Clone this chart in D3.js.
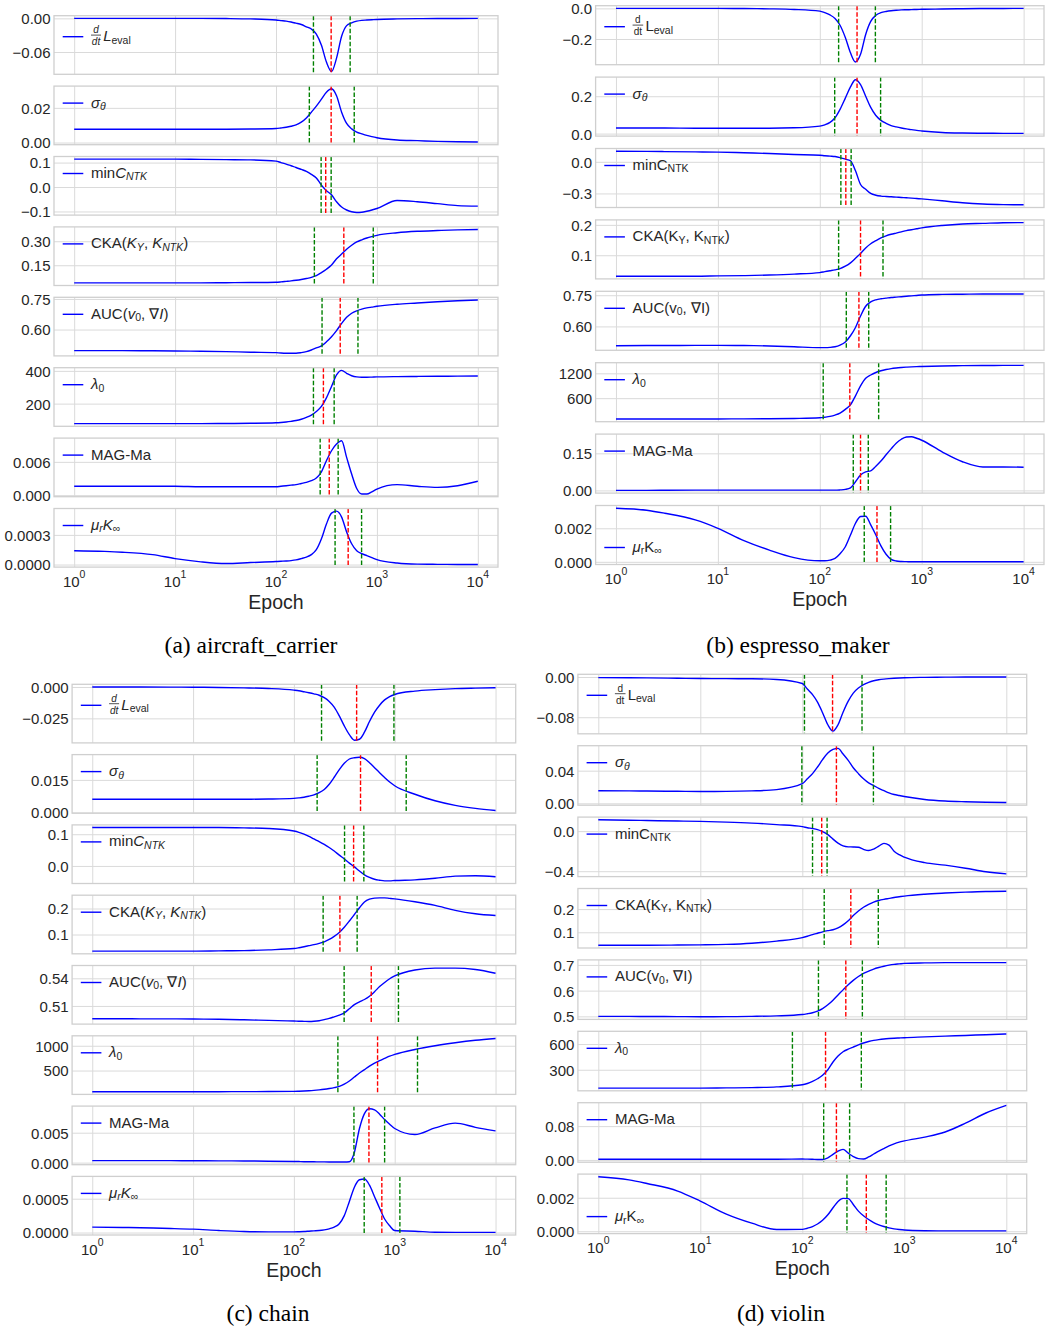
<!DOCTYPE html>
<html>
<head>
<meta charset="utf-8">
<script src="https://cdn.jsdelivr.net/npm/d3@7"></script>
<style>
  html, body { margin: 0; padding: 0; background: #fff; }
  svg { display: block; font-family: "Liberation Sans", Arial, sans-serif; }
  text { white-space: pre; }
</style>
</head>
<body>
<div id="chart"></div>
<script>
//////////////////////////// data /////////////////////////////////////////

// shared epoch grid (log spaced, denser around the transition)
const epochs = [1, 2, 3, 6, 10, 18, 32, 56, 100, 112, 126, 141, 158, 178, 200, 224, 251, 282, 316, 355,
  398, 447, 501, 562, 631, 708, 794, 891, 1000, 1585, 2512, 3981, 6310, 10000];

const xTicks = [1, 10, 100, 1000, 10000];

// (a) aircraft_carrier
const aLeval = [0, 0, 0, 0, 0, 0, -0.0003, -0.001, -0.003, -0.004, -0.005, -0.0065, -0.0086, -0.011, -0.015, -0.019, -0.028, -0.048, -0.078, -0.095, -0.071, -0.032, -0.013, -0.008, -0.005, -0.0035, -0.003, -0.0025, -0.002, -0.001, -0.0005, -0.0003, -0.0002, 0];
const aSigma = [0.0077, 0.0077, 0.0077, 0.0077, 0.0077, 0.0077, 0.0077, 0.0078, 0.0081, 0.0084, 0.0088, 0.0094, 0.0102, 0.0118, 0.0142, 0.0175, 0.021, 0.025, 0.029, 0.031, 0.027, 0.0175, 0.011, 0.0079, 0.006, 0.005, 0.0041, 0.0034, 0.0028, 0.0015, 0.0011, 0.0007, 0.0005, 0.0003];
const aMinC = [0.114, 0.114, 0.114, 0.114, 0.114, 0.113, 0.112, 0.111, 0.106, 0.1, 0.094, 0.087, 0.08, 0.072, 0.064, 0.052, 0.037, 0.008, -0.015, -0.032, -0.06, -0.082, -0.094, -0.101, -0.104, -0.103, -0.099, -0.094, -0.088, -0.055, -0.06, -0.068, -0.076, -0.078];
const aCka = [0.04, 0.04, 0.04, 0.04, 0.04, 0.04, 0.041, 0.042, 0.044, 0.046, 0.049, 0.052, 0.056, 0.061, 0.067, 0.074, 0.085, 0.104, 0.125, 0.152, 0.19, 0.22, 0.25, 0.275, 0.296, 0.309, 0.32, 0.329, 0.337, 0.353, 0.362, 0.367, 0.371, 0.373];
const aAuc = [0.497, 0.497, 0.497, 0.496, 0.495, 0.494, 0.492, 0.489, 0.487, 0.485, 0.484, 0.484, 0.484, 0.487, 0.492, 0.5, 0.51, 0.52, 0.54, 0.565, 0.595, 0.63, 0.66, 0.68, 0.692, 0.7, 0.706, 0.71, 0.714, 0.724, 0.73, 0.736, 0.741, 0.745];
const aLambda = [78, 78, 78, 78, 78, 78, 79, 80, 83, 85, 88, 92, 97, 105, 116, 130, 152, 183, 235, 305, 375, 403, 385, 370, 363, 361, 361, 362, 363, 365, 366, 367, 368, 369];
const aMag = [0.0016, 0.0016, 0.0016, 0.0016, 0.0016, 0.0015, 0.0015, 0.0015, 0.0015, 0.0016, 0.0017, 0.0018, 0.0019, 0.0021, 0.0023, 0.0026, 0.0031, 0.0042, 0.0062, 0.008, 0.0092, 0.0098, 0.0068, 0.0038, 0.0012, 0.0002, 0.0002, 0.0006, 0.0011, 0.0019, 0.0016, 0.0014, 0.0017, 0.0025];
const aMu = [0.00014, 0.000133, 0.000125, 0.0001, 0.00006, 0.000027, 0.00001, 0.00002, 0.00003, 0.000033, 0.000036, 0.00004, 0.000047, 0.00006, 0.000075, 0.0001, 0.00015, 0.00026, 0.00041, 0.00052, 0.00054, 0.00048, 0.00033, 0.00021, 0.00014, 0.00011, 0.00009, 0.00007, 0.00005, 0.000015, 0.000004, 0.000002, 0.000001, 0.000001];
const aTicks = [["−0.06", "0.00"], ["0.00", "0.02"], ["−0.1", "0.0", "0.1"], ["0.15", "0.30"], ["0.60", "0.75"], ["200", "400"], ["0.000", "0.006"], ["0.0000", "0.0003"]];
// dashed markers per row: [green, red, green] epochs
const aMarks = [[235, 352, 543], [214, 352, 596], [280, 311, 352], [240, 470, 920], [286, 433, 649], [235, 295, 377], [274, 337, 413], [385, 519, 705]];

// (b) espresso_maker
const bLeval = [0, 0, 0, 0, 0, -0.001, -0.003, -0.007, -0.018, -0.028, -0.043, -0.066, -0.11, -0.19, -0.29, -0.35, -0.3, -0.17, -0.085, -0.045, -0.028, -0.02, -0.015, -0.012, -0.01, -0.009, -0.008, -0.007, -0.006, -0.004, -0.002, -0.001, -0.0005, 0];
const bSigma = [0.03, 0.03, 0.03, 0.029, 0.029, 0.029, 0.029, 0.031, 0.04, 0.047, 0.06, 0.085, 0.13, 0.19, 0.25, 0.288, 0.262, 0.2, 0.14, 0.097, 0.071, 0.055, 0.043, 0.036, 0.03, 0.025, 0.021, 0.017, 0.014, 0.006, 0.003, 0.002, 0.0015, 0.001];
const bMinC = [0.101, 0.099, 0.097, 0.094, 0.092, 0.086, 0.079, 0.07, 0.063, 0.058, 0.054, 0.05, 0.04, 0.025, 0.01, -0.085, -0.215, -0.26, -0.3, -0.317, -0.325, -0.329, -0.332, -0.335, -0.338, -0.341, -0.344, -0.348, -0.352, -0.37, -0.388, -0.4, -0.406, -0.408];
const bCka = [0.031, 0.031, 0.031, 0.031, 0.032, 0.033, 0.035, 0.038, 0.043, 0.046, 0.049, 0.052, 0.056, 0.064, 0.075, 0.09, 0.106, 0.124, 0.138, 0.148, 0.157, 0.164, 0.169, 0.173, 0.177, 0.181, 0.184, 0.187, 0.19, 0.198, 0.203, 0.205, 0.207, 0.2075];
const bAuc = [0.507, 0.508, 0.508, 0.509, 0.509, 0.508, 0.506, 0.502, 0.498, 0.498, 0.499, 0.502, 0.51, 0.525, 0.555, 0.595, 0.65, 0.697, 0.718, 0.728, 0.733, 0.736, 0.739, 0.741, 0.743, 0.745, 0.747, 0.749, 0.751, 0.754, 0.755, 0.756, 0.756, 0.756];
const bLambda = [96, 96, 97, 97, 98, 100, 103, 110, 125, 140, 160, 192, 240, 330, 440, 656, 896, 1080, 1160, 1220, 1262, 1292, 1315, 1330, 1341, 1350, 1357, 1362, 1366, 1378, 1385, 1389, 1391, 1392];
const bMag = [0.0, 0.0, 0.0005, 0.001, 0.001, 0.001, 0.001, 0.001, 0.001, 0.001, 0.001, 0.001, 0.002, 0.004, 0.01, 0.035, 0.062, 0.075, 0.079, 0.098, 0.119, 0.144, 0.168, 0.191, 0.207, 0.216, 0.217, 0.211, 0.203, 0.156, 0.116, 0.095, 0.095, 0.094];
const bMu = [0.0032, 0.00308, 0.0029, 0.0025, 0.002, 0.00127, 0.0007, 0.00025, 0.00006, 0.00006, 0.0001, 0.0002, 0.00048, 0.0009, 0.0016, 0.0023, 0.0027, 0.00272, 0.0022, 0.0016, 0.00095, 0.00045, 0.00015, 0.00005, 0.00002, 0.00001, 0, 0, 0, 0, 0, 0, 0, 0];
const bTicks = [["−0.2", "0.0"], ["0.0", "0.2"], ["−0.3", "0.0"], ["0.1", "0.2"], ["0.60", "0.75"], ["600", "1200"], ["0.00", "0.15"], ["0.000", "0.002"]];
const bMarks = [[153, 232, 351], [140, 232, 395], [161, 180, 203], [153, 251, 417], [182, 242, 302], [108, 197, 378], [213, 251, 299], [273, 364, 495]];

// (c) chain
const cLeval = [0, 0, 0, -0.0001, -0.0002, -0.0004, -0.0007, -0.0012, -0.0025, -0.003, -0.0038, -0.0046, -0.0055, -0.0066, -0.0085, -0.0115, -0.016, -0.023, -0.031, -0.038, -0.0424, -0.0416, -0.036, -0.0275, -0.02, -0.0145, -0.0103, -0.0077, -0.006, -0.0033, -0.0021, -0.0013, -0.0009, -0.0006];
const cSigma = [0.0061, 0.0061, 0.0061, 0.0061, 0.0061, 0.0061, 0.0061, 0.0062, 0.0065, 0.0067, 0.007, 0.0075, 0.0081, 0.0091, 0.0106, 0.013, 0.0162, 0.0197, 0.0226, 0.0246, 0.0252, 0.0254, 0.0248, 0.0229, 0.0206, 0.0183, 0.0161, 0.014, 0.0123, 0.0084, 0.0054, 0.0033, 0.0019, 0.0009];
const cMinC = [0.121, 0.121, 0.121, 0.121, 0.121, 0.121, 0.12, 0.118, 0.11, 0.106, 0.1, 0.093, 0.085, 0.077, 0.068, 0.058, 0.047, 0.034, 0.022, 0.009, -0.003, -0.016, -0.028, -0.036, -0.042, -0.045, -0.047, -0.047, -0.046, -0.044, -0.039, -0.032, -0.031, -0.034];
const cCka = [0.036, 0.036, 0.036, 0.036, 0.036, 0.037, 0.038, 0.041, 0.046, 0.049, 0.053, 0.057, 0.061, 0.066, 0.072, 0.081, 0.093, 0.108, 0.128, 0.152, 0.177, 0.203, 0.225, 0.236, 0.24, 0.241, 0.241, 0.239, 0.237, 0.226, 0.212, 0.193, 0.18, 0.173];
const cAuc = [0.4961, 0.4961, 0.496, 0.496, 0.4958, 0.4955, 0.495, 0.4943, 0.4937, 0.4934, 0.4933, 0.4932, 0.4934, 0.494, 0.4952, 0.4965, 0.4982, 0.5, 0.5025, 0.507, 0.5115, 0.5145, 0.517, 0.5205, 0.5255, 0.531, 0.5355, 0.5395, 0.5425, 0.549, 0.551, 0.551, 0.5495, 0.5455];
const cLambda = [73, 73, 73, 73, 73, 74, 75, 77, 81, 84, 88, 93, 100, 110, 122, 137, 155, 180, 225, 290, 370, 450, 520, 590, 650, 700, 745, 790, 825, 925, 1000, 1060, 1110, 1147];
const cMag = [0.00034, 0.00034, 0.00034, 0.00033, 0.00032, 0.0003, 0.00028, 0.00024, 0.0002, 0.00018, 0.00016, 0.00015, 0.00014, 0.00013, 0.00012, 0.00011, 0.0001, 0.0001, 0.0001, 0.00015, 0.0017, 0.0057, 0.0082, 0.009, 0.0088, 0.0081, 0.0072, 0.0064, 0.0057, 0.0047, 0.0058, 0.0066, 0.0059, 0.0053];
const cMu = [0.00008, 0.000075, 0.00007, 0.00006, 0.00005, 0.00003, 0.000015, 0.00001, 0.00001, 0.000012, 0.000015, 0.00002, 0.000025, 0.00003, 0.00004, 0.000055, 0.00008, 0.00013, 0.00025, 0.00046, 0.00067, 0.00078, 0.00079, 0.0007, 0.00053, 0.00036, 0.0002, 0.0001, 0.00003, 0.00002, 0.000005, 0.000003, 0.000003, 0.000003];
const cTicks = [["−0.025", "0.000"], ["0.000", "0.015"], ["0.0", "0.1"], ["0.1", "0.2"], ["0.51", "0.54"], ["500", "1000"], ["0.000", "0.005"], ["0.0000", "0.0005"]];
const cMarks = [[188, 419, 982], [170, 458, 1300], [318, 391, 494], [195, 286, 424], [315, 585, 1089], [273, 676, 1683], [394, 555, 794], [498, 745, 1125]];

// (d) violin
const dLeval = [-0.0013, -0.0015, -0.0018, -0.0025, -0.003, -0.0033, -0.0035, -0.005, -0.013, -0.024, -0.035, -0.05, -0.071, -0.095, -0.1076, -0.095, -0.07, -0.048, -0.032, -0.022, -0.015, -0.0105, -0.0075, -0.0055, -0.0042, -0.0033, -0.0026, -0.002, -0.0015, -0.0007, -0.0003, 0, 0, 0];
const dSigma = [0.0154, 0.0152, 0.015, 0.0147, 0.0145, 0.0146, 0.0152, 0.0168, 0.024, 0.03, 0.0364, 0.0445, 0.0536, 0.0617, 0.066, 0.0673, 0.0604, 0.0527, 0.0436, 0.0364, 0.03, 0.025, 0.0218, 0.0183, 0.0155, 0.0128, 0.0108, 0.0095, 0.0083, 0.0047, 0.0028, 0.0019, 0.0013, 0.001];
const dMinC = [0.113, 0.109, 0.106, 0.101, 0.097, 0.09, 0.08, 0.065, 0.045, 0.034, 0.026, 0.015, -0.005, -0.035, -0.08, -0.12, -0.148, -0.157, -0.158, -0.161, -0.182, -0.194, -0.179, -0.15, -0.122, -0.139, -0.2, -0.235, -0.26, -0.315, -0.34, -0.37, -0.405, -0.427];
const dCka = [0.044, 0.044, 0.044, 0.045, 0.046, 0.048, 0.053, 0.062, 0.077, 0.083, 0.09, 0.096, 0.102, 0.107, 0.111, 0.119, 0.132, 0.15, 0.172, 0.192, 0.208, 0.22, 0.23, 0.237, 0.242, 0.246, 0.25, 0.253, 0.256, 0.264, 0.269, 0.273, 0.276, 0.277];
const dAuc = [0.5, 0.5, 0.4995, 0.499, 0.4987, 0.4988, 0.5, 0.502, 0.507, 0.51, 0.514, 0.52, 0.53, 0.545, 0.563, 0.583, 0.603, 0.623, 0.64, 0.655, 0.667, 0.676, 0.684, 0.69, 0.695, 0.699, 0.702, 0.704, 0.706, 0.708, 0.709, 0.709, 0.709, 0.709];
const dLambda = [86, 86, 86, 86, 86, 88, 92, 100, 125, 140, 165, 195, 235, 300, 390, 460, 510, 540, 565, 590, 612, 630, 643, 652, 659, 664, 668, 671, 674, 683, 692, 700, 709, 717];
const dMag = [0.0016, 0.0016, 0.0016, 0.0016, 0.0016, 0.0016, 0.0016, 0.0017, 0.002, 0.0019, 0.0015, 0.001, 0.001, 0.005, 0.013, 0.021, 0.025, 0.016, 0.008, 0.003, 0.0022, 0.007, 0.014, 0.021, 0.027, 0.033, 0.038, 0.042, 0.045, 0.054, 0.066, 0.087, 0.111, 0.129];
const dMu = [0.00325, 0.00307, 0.00285, 0.0024, 0.0018, 0.00102, 0.00048, 0.0001, 0.00011, 0.00018, 0.00028, 0.00043, 0.00065, 0.00098, 0.0014, 0.00178, 0.00196, 0.00195, 0.0016, 0.0012, 0.00092, 0.0007, 0.00052, 0.00038, 0.00028, 0.0002, 0.00014, 0.0001, 0.00007, 0.00003, 0.00002, 0.00002, 0.00002, 0.00002];
const dTicks = [["−0.08", "0.00"], ["0.00", "0.04"], ["−0.4", "0.0"], ["0.1", "0.2"], ["0.5", "0.6", "0.7"], ["300", "600"], ["0.00", "0.08"], ["0.000", "0.002"]];
const dMarks = [[105, 198, 385], [99, 216, 498], [126, 155, 175], [164, 299, 556], [144, 267, 388], [80, 169, 379], [162, 216, 291], [274, 424, 664]];

//////////////////////////// legend labels ////////////////////////////////

// [text, style]: n = normal, i = italic, sub / isub = subscript
const mathLabels = [
	"frac",
	[["σ", "i"], ["θ", "isub"]],
	[["min", "n"], ["C", "i"], ["NTK", "isub"]],
	[["CKA(", "n"], ["K", "i"], ["Y", "isub"], [", ", "n"], ["K", "i"], ["NTK", "isub"], [")", "n"]],
	[["AUC(", "n"], ["v", "i"], ["0", "sub"], [", ∇", "n"], ["I", "i"], [")", "n"]],
	[["λ", "i"], ["0", "sub"]],
	[["MAG-Ma", "n"]],
	[["μ", "i"], ["r", "isub"], ["K", "i"], ["∞", "sub"]]
];
const plainLabels = [
	"frac",
	[["σ", "i"], ["θ", "isub"]],
	[["minC", "n"], ["NTK", "sub"]],
	[["CKA(K", "n"], ["Y", "sub"], [", K", "n"], ["NTK", "sub"], [")", "n"]],
	[["AUC(v", "n"], ["0", "sub"], [", ∇I)", "n"]],
	[["λ", "i"], ["0", "sub"]],
	[["MAG-Ma", "n"]],
	[["μ", "i"], ["r", "sub"], ["K", "n"], ["∞", "sub"]]
];

//////////////////////////// layout ///////////////////////////////////////

const panels = [
	{ caption: "(a) aircraft_carrier", series: [aLeval, aSigma, aMinC, aCka, aAuc, aLambda, aMag, aMu],
		ticks: aTicks, marks: aMarks, labels: mathLabels, italic: true,
		left: 54, right: 498, top: 15.7, pitch: 70.4, height: 58.6, capX: 251, capY: 653, low: [] },
	{ caption: "(b) espresso_maker", series: [bLeval, bSigma, bMinC, bCka, bAuc, bLambda, bMag, bMu],
		ticks: bTicks, marks: bMarks, labels: plainLabels, italic: false,
		left: 595.6, right: 1044, top: 5.7, pitch: 71.4, height: 59, capX: 798, capY: 653, low: [7] },
	{ caption: "(c) chain", series: [cLeval, cSigma, cMinC, cCka, cAuc, cLambda, cMag, cMu],
		ticks: cTicks, marks: cMarks, labels: mathLabels, italic: true,
		left: 72.1, right: 515.7, top: 684.3, pitch: 70.3, height: 58.6, capX: 268, capY: 1321, low: [] },
	{ caption: "(d) violin", series: [dLeval, dSigma, dMinC, dCka, dAuc, dLambda, dMag, dMu],
		ticks: dTicks, marks: dMarks, labels: plainLabels, italic: false,
		left: 577.9, right: 1026.7, top: 674.3, pitch: 71.4, height: 59.5, capX: 781, capY: 1321, low: [7] }
];

const ink = "#262626";
const gridColor = "#dadada";
const frameColor = "#cfcfcf";
const markColors = ["#008000", "#ff0000", "#008000"];

//////////////////////////// svg //////////////////////////////////////////

const svg = d3.select("#chart").append("svg").attr("width", 1045).attr("height", 1331);
svg.append("rect").attr("width", 1045).attr("height", 1331).attr("fill", "#fff");
const defs = svg.append("defs");
let clipId = 0;

const addRich = (text, segs) => {
	let shift = 0;
	segs.forEach(([str, style]) => {
		const sub = style.includes("sub");
		const target = sub ? 2.5 : 0;
		text.append("tspan")
			.attr("dy", target - shift)
			.style("font-size", sub ? "10.5px" : "15px")
			.style("font-style", style.startsWith("i") ? "italic" : "normal")
			.text(str);
		shift = target;
	});
};

const drawRow = (p, i) => {
	const top = p.top + i * p.pitch;
	const bottom = top + p.height;
	const values = p.series[i];
	const lo = d3.min(values), hi = d3.max(values);
	const pad = (hi - lo) * 0.05;

	const x = d3.scaleLog().domain([10 ** -0.2, 10 ** 4.2]).range([p.left, p.right]);
	const y = d3.scaleLinear().domain([lo - pad, hi + pad]).range([bottom, top]);

	const g = svg.append("g");

	// grid via axes
	const labels = p.ticks[i];
	const tickVals = labels.map((t) => +t.replace("−", "-"));
	const yAxis = d3.axisLeft(y).tickValues(tickVals)
		.tickFormat((d, k) => labels[k])
		.tickSize(-(p.right - p.left)).tickPadding(3.5);
	const ya = g.append("g").attr("transform", `translate(${p.left},0)`).call(yAxis);
	ya.select(".domain").remove();
	ya.selectAll("line").attr("stroke", gridColor).attr("stroke-width", 1);
	ya.selectAll("text").attr("fill", ink).attr("dy", "0.36em")
		.style("font-size", "15px").style("font-family", "Liberation Sans, Arial, sans-serif");

	const xAxis = d3.axisBottom(x).tickValues(xTicks).tickFormat("").tickSize(-(bottom - top));
	const xa = g.append("g").attr("transform", `translate(0,${bottom})`).call(xAxis);
	xa.select(".domain").remove();
	xa.selectAll("line").attr("stroke", gridColor).attr("stroke-width", 1);

	// clip
	const id = "clip" + clipId++;
	defs.append("clipPath").attr("id", id).append("rect")
		.attr("x", p.left).attr("y", top).attr("width", p.right - p.left).attr("height", bottom - top);
	const plot = g.append("g").attr("clip-path", `url(#${id})`);

	const line = d3.line()
		.x((d, k) => x(epochs[k]))
		.y((d) => y(d))
		.curve(d3.curveMonotoneX);

	plot.append("path").datum(values)
		.attr("d", line).attr("fill", "none")
		.attr("stroke", "#0000ff").attr("stroke-width", 1.4);

	plot.selectAll(".mark").data(p.marks[i]).join("line")
		.attr("class", "mark")
		.attr("x1", (d) => x(d)).attr("x2", (d) => x(d))
		.attr("y1", top).attr("y2", bottom)
		.attr("stroke", (d, k) => markColors[k])
		.attr("stroke-width", 1.4)
		.attr("stroke-dasharray", "4.5,2");

	// frame
	g.append("rect").attr("x", p.left).attr("y", top)
		.attr("width", p.right - p.left).attr("height", bottom - top)
		.attr("fill", "none").attr("stroke", frameColor).attr("stroke-width", 1.3);

	// legend
	const ly = p.low.includes(i) ? bottom - 17 : top + (i === 0 ? 21 : 17);
	g.append("line")
		.attr("x1", p.left + 8.7).attr("x2", p.left + 29.3)
		.attr("y1", ly).attr("y2", ly)
		.attr("stroke", "#0000ff").attr("stroke-width", 1.4);

	const tx = p.left + 37;
	const spec = p.labels[i];
	if (spec === "frac") {
		const fs = p.italic ? "italic" : "normal";
		const bw = p.italic ? 10 : 10.6;
		g.append("text").attr("x", tx + bw / 2).attr("y", ly - 3.3)
			.attr("text-anchor", "middle").attr("fill", ink)
			.style("font-size", "10px").style("font-style", fs).text("d");
		g.append("line").attr("x1", tx).attr("x2", tx + bw)
			.attr("y1", ly - 1.6).attr("y2", ly - 1.6)
			.attr("stroke", ink).attr("stroke-width", 0.8);
		g.append("text").attr("x", tx + bw / 2).attr("y", ly + 8.6)
			.attr("text-anchor", "middle").attr("fill", ink)
			.style("font-size", "10px").style("font-style", fs).text("dt");
		const t = g.append("text").attr("x", tx + bw + 2.2).attr("y", ly + 4.4).attr("fill", ink);
		addRich(t, [["L", p.italic ? "i" : "n"], ["eval", "sub"]]);
	} else {
		const t = g.append("text").attr("x", tx).attr("y", ly + 4.4).attr("fill", ink);
		addRich(t, spec);
	}

	// bottom row: exponent tick labels and axis title
	if (i === 7) {
		xTicks.forEach((v, k) => {
			const t = g.append("text")
				.attr("x", x(v)).attr("y", bottom + 19.5)
				.attr("text-anchor", "middle").attr("fill", ink);
			t.append("tspan").style("font-size", "15px").text("10");
			t.append("tspan").attr("dy", -9).style("font-size", "10.5px").text(String(k));
		});
		g.append("text")
			.attr("x", (p.left + p.right) / 2).attr("y", bottom + 41.5)
			.attr("text-anchor", "middle").attr("fill", ink)
			.style("font-size", "19.5px").text("Epoch");
	}
};

panels.forEach((p) => {
	d3.range(8).forEach((i) => drawRow(p, i));
	svg.append("text")
		.attr("x", p.capX).attr("y", p.capY)
		.attr("text-anchor", "middle").attr("fill", "#000")
		.style("font-family", "Liberation Serif, Times New Roman, serif")
		.style("font-size", "23.5px")
		.text(p.caption);
});
</script>
</body>
</html>
